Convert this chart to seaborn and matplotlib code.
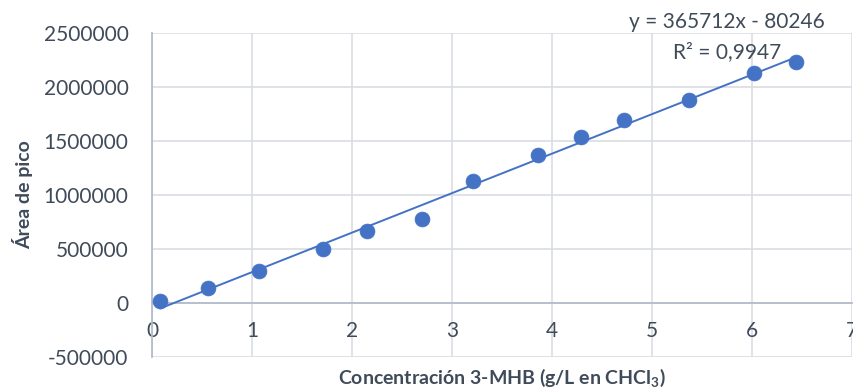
import numpy as np
import pandas as pd
import seaborn as sns
import matplotlib.pyplot as plt

# valores
conc = [0.08, 0.56, 1.07, 1.71, 2.15, 2.70, 3.21, 3.86, 4.29, 4.72, 5.37, 6.02, 6.44]
area = [20000, 140000, 296000, 500000, 667000, 778000, 1130000, 1370000,
        1537000, 1694000, 1880000, 2130000, 2231000]
slope = 365712
intercept = -80246
r2_label = 'R² = 0,9947'
eq_label = 'y = 365712x - 80246'

df = pd.DataFrame({'conc': conc, 'area': area})

sns.set_style('white')
plt.rcParams['font.family'] = ['Lato', 'DejaVu Sans']
plt.rcParams['mathtext.fontset'] = 'custom'
plt.rcParams['mathtext.rm'] = 'Lato:bold'
plt.rcParams['mathtext.default'] = 'rm'

TXT = '#404b5a'
BLUE = '#4472C4'

fig = plt.figure(figsize=(8.54, 3.91), dpi=100)
ax = fig.add_axes([0.178, 0.087, 0.82, 0.829])

xs = np.array([min(conc), max(conc)])
ax.plot(xs, slope * xs + intercept, color=BLUE, lw=1.4, zorder=2)
sns.scatterplot(data=df, x='conc', y='area', ax=ax, color=BLUE, s=115,
                edgecolor=BLUE, linewidth=0.5, zorder=3)

ax.set_xlim(0, 7)
ax.set_ylim(-500000, 2500000)
ax.set_xticks(range(0, 8))
ax.set_yticks(range(-500000, 2500001, 500000))
ax.set_yticklabels([str(v) for v in range(-500000, 2500001, 500000)])
ax.grid(True, color='#d9dde3', lw=1.2)
ax.set_axisbelow(True)

for s in ['top', 'right']:
    ax.spines[s].set_visible(False)
ax.spines['bottom'].set_position(('data', 0))
ax.spines['bottom'].set_color('#b4bccb')
ax.spines['left'].set_color('#b4bccb')
ax.spines['bottom'].set_linewidth(1.3)
ax.spines['left'].set_linewidth(1.3)
ax.spines['bottom'].set_zorder(1)
ax.tick_params(axis='both', length=0, labelsize=15, labelcolor=TXT)
ax.tick_params(axis='x', pad=13)
ax.tick_params(axis='y', pad=17)

ax.set_xlabel(r'Concentración 3-MHB (g/L en CHCl$_3$)', fontsize=14,
              fontweight='bold', color=TXT)
ax.xaxis.set_label_coords(0.5, -0.03)
ax.set_ylabel('Área de pico', fontsize=14, fontweight='bold', color=TXT)
ax.yaxis.set_label_coords(-0.17, 0.5)

ax.text(5.75, 2602000, eq_label, fontsize=15, color=TXT, ha='center',
        va='center', clip_on=False)
ax.text(5.75, 2324000, r2_label, fontsize=15, color=TXT, ha='center',
        va='center', clip_on=False)

fig.savefig('out.png', dpi=100)
